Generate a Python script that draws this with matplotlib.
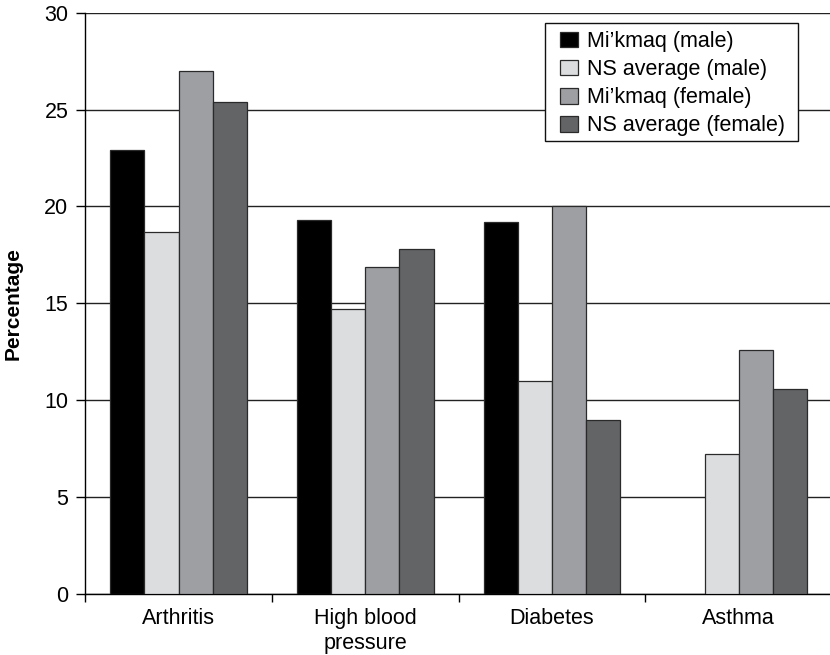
import numpy as np
import matplotlib
matplotlib.use("Agg")
import matplotlib.pyplot as plt
from matplotlib.patches import Rectangle
from matplotlib.ticker import FixedLocator, NullFormatter

plt.rcParams['font.family'] = ['Liberation Sans', 'DejaVu Sans']

categories = ["Arthritis", "High blood\npressure", "Diabetes", "Asthma"]
series_names = ["Mi\u2019kmaq (male)", "NS average (male)",
                "Mi\u2019kmaq (female)", "NS average (female)"]
mikmaq_male = [22.9, 19.3, 19.2, np.nan]
ns_male = [18.7, 14.7, 11.0, 7.2]
mikmaq_female = [27.0, 16.9, 20.0, 12.6]
ns_female = [25.4, 17.8, 9.0, 10.6]
y_ticks = [0, 5, 10, 15, 20, 25, 30]

series = [mikmaq_male, ns_male, mikmaq_female, ns_female]
colors = ["#000000", "#dcdddf", "#9e9fa3", "#636466"]

FS = 15.5
W, H = 830, 655
fig = plt.figure(figsize=(W / 100, H / 100), dpi=100)
ax = fig.add_axes([85.3 / W, 1 - 594 / H, 746.7 / W, (594 - 12.7) / H])

x = np.arange(len(categories))
bw = 0.183
offsets = (np.arange(len(series)) - 1.5) * bw
handles = []
for vals, off, col, name in zip(series, offsets, colors, series_names):
    b = ax.bar(x + off, vals, width=bw, color=col, edgecolor="#2a2a2a",
               linewidth=0.9, label=name, zorder=3)
    handles.append(b)

ax.set_xlim(-0.5, len(categories) - 0.5)
ax.set_ylim(0, 30)
ax.set_yticks(y_ticks)
ax.yaxis.grid(True, color="#222222", linewidth=1.0, zorder=0)
ax.set_axisbelow(True)

for s in ["top", "right"]:
    ax.spines[s].set_visible(False)
ax.spines["left"].set_linewidth(1.0)
ax.spines["bottom"].set_linewidth(1.0)

# category boundaries as ticks, labels centred on groups
ax.xaxis.set_major_locator(FixedLocator(np.arange(-0.5, len(categories), 1.0)))
ax.xaxis.set_major_formatter(NullFormatter())
ax.xaxis.set_minor_locator(FixedLocator(x))
ax.set_xticklabels(categories, minor=True, linespacing=1.25)
ax.tick_params(axis="x", which="major", direction="out", length=5.5, width=1.0)
ax.tick_params(axis="x", which="minor", length=0, pad=10, labelsize=FS)
ax.tick_params(axis="y", direction="out", length=6.2, width=1.0, pad=6,
               labelsize=FS)

ax.set_ylabel("Percentage", fontsize=15, fontweight="bold")
ax.yaxis.set_label_coords((22.7 - 85.3) / 746.7, 0.5)

# legend box drawn separately so its padding can differ horizontally
box = Rectangle((545 / W, 1 - 141.3 / H), (798 - 545) / W, (141.3 - 22.7) / H,
                transform=fig.transFigure, facecolor="white",
                edgecolor="#111111", linewidth=1.0, zorder=5)
fig.add_artist(box)

leg = fig.legend(handles=handles, loc="upper left",
                 bbox_to_anchor=(560 / W, 1 - 31 / H),
                 bbox_transform=fig.transFigure, borderaxespad=0,
                 fontsize=FS, frameon=False,
                 handlelength=0.85, handleheight=0.75, handletextpad=0.4,
                 labelspacing=0.33, borderpad=0)
leg.set_zorder(6)

fig.savefig("out.png", dpi=100)
